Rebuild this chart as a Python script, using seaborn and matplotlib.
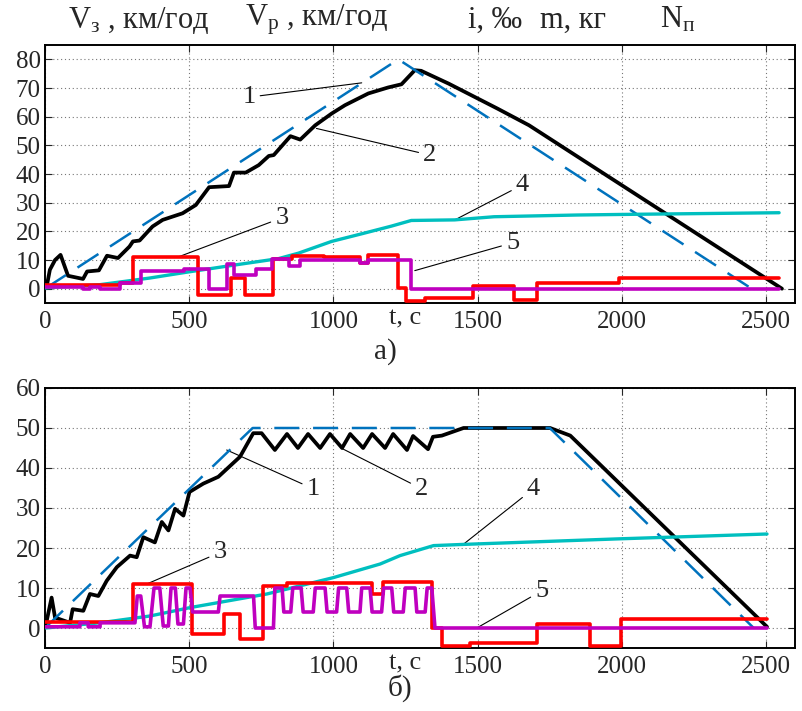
import matplotlib
matplotlib.use("Agg")
import matplotlib.pyplot as plt
import seaborn as sns

# ---------------- panel a) ----------------
# 1 - set speed profile Vз
a_set_t = [0, 1225, 2450]
a_set_v = [0, 80, 0]
# 2 - actual speed Vр
a_act_t = [0, 6, 17, 35, 54, 80, 132, 146, 187, 215, 253, 293, 305, 328, 373, 408,
           477, 523, 569, 638, 655, 696, 741, 776, 793, 851, 885, 937, 994, 1040,
           1121, 1190, 1236, 1282, 1304, 1400, 1569, 1678, 2555]
a_act_v = [0.5, 0.8, 6.6, 10, 11.8, 4.5, 3.4, 6.0, 6.4, 11.5, 10.7, 14.7, 16.5, 16.8,
           21.7, 24, 26.3, 29.2, 35.4, 35.8, 40.5, 40.5, 43.1, 46.3, 46.6, 53.2, 52,
           57, 61.1, 64, 68.1, 70.2, 71.3, 76.2, 76, 71.5, 62.8, 57, 0]
# 3 - gradient i (step changes)
a_grad_t = [0, 259, 305, 531, 644, 695, 790, 856, 966, 1092, 1121, 1224, 1253, 1316,
            1483, 1626, 1707, 1990, 2545]
a_grad_v = [1.3, 2.1, 11, -2.3, 3.7, -2.3, 10.3, 11.5, 11.0, 8.9, 11.8, 0.2, -4.2,
            -3.4, 1.0, -3.8, 2.0, 3.7, 3.7]
# 4 - fuel mass m
a_mass_t = [0, 190, 362, 488, 640, 810, 879, 994, 1100, 1200, 1270, 1420, 1557, 1845,
            2000, 2545]
a_mass_v = [0.3, 1.4, 3.7, 5.7, 8.0, 10.5, 12.4, 16.5, 19.2, 21.8, 23.8, 24.0, 25.1,
            25.7, 25.9, 26.5]
# 5 - controller position Nп (step changes)
a_notch_t = [0, 132, 155, 190, 259, 333, 483, 569, 632, 655, 730, 787, 845, 885,
             1092, 1121, 1268, 2545]
a_notch_v = [0.5, 0, 0.5, 0, 2.0, 6.0, 6.8, 0, 8.7, 4.9, 6.8, 10.3, 8.0, 10.1, 8.9,
             10.1, 0, 0]

# ---------------- panel б) ----------------
b_set_t = [0, 720, 1750, 2457]
b_set_v = [0, 50, 50, 0]
b_act_t = [0, 6, 23, 35, 87, 96, 133, 156, 185, 214, 249, 295, 318, 341, 381, 405,
           428, 451, 480, 501, 549, 601, 676, 722, 751, 797, 839, 877, 912, 954, 988,
           1030, 1058, 1103, 1134, 1179, 1207, 1255, 1276, 1328, 1345, 1376, 1451,
           1751, 1821, 2503]
b_act_v = [0.5, 1.8, 7.6, 2.6, 1.3, 4.7, 4.3, 8.5, 8.0, 11.8, 15.2, 18.1, 17.7, 22.7,
           21.4, 26.5, 24.4, 29.8, 28.1, 34, 36.1, 37.8, 42.8, 48.7, 48.7, 44.5, 48.5,
           45, 48.5, 45, 48.5, 45, 48.5, 45, 48.5, 45, 48.5, 44.5, 48, 44.7, 47.8,
           48.1, 50, 50, 48.1, 0.3]
b_grad_t = [0, 306, 509, 619, 676, 755, 838, 1133, 1173, 1341, 1377, 1474, 1705, 1890,
            1998, 2503]
b_grad_v = [1.5, 11.0, -1.6, 3.6, -2.8, 10.5, 11.3, 8.6, 11.6, 0, -4.5, -3.7, 0.9,
            -4.5, 2.2, 2.2]
b_mass_t = [0, 191, 364, 503, 769, 1000, 1162, 1231, 1347, 1451, 1994, 2503]
b_mass_v = [0, 1.3, 3.0, 5.1, 8.5, 12.6, 16.0, 18.1, 20.6, 20.9, 22.3, 23.5]
b_notch_t = [0, 121, 121, 150, 150, 191, 191, 312, 320, 332, 345, 364, 378, 398, 410,
             428, 437, 452, 461, 480, 489, 503, 512, 601, 607, 723, 729, 792, 797, 822,
             828, 852, 859, 888, 895, 930, 937, 971, 978, 1011, 1018, 1046, 1053, 1092,
             1098, 1127, 1134, 1167, 1174, 1202, 1209, 1242, 1249, 1283, 1289, 1318,
             1325, 1341, 1352, 2503]
b_notch_v = [0.3, 0.3, 1.3, 1.3, 0.3, 0.3, 1.3, 1.3, 8, 8, 0.3, 0.3, 10, 10, 0.5, 0.5,
             10, 10, 1, 1, 10, 10, 4, 4, 8, 8, 0, 0, 10, 10, 4, 4, 10, 10, 4, 4, 10, 10,
             4, 4, 10, 10, 4, 4, 10, 10, 4, 4, 10, 10, 4, 4, 10, 10, 4, 4, 10, 10, 0, 0]

# callout numbers: (label, text position, pointed position)
a_callouts = [("1", (707, 66.8), (1098, 71.8)), ("2", (1334, 46.6), (941, 55.9)),
              ("3", (821, 24.7), (460, 11.0)), ("4", (1655, 36.2), (1421, 24.0)),
              ("5", (1621, 16.0), (1282, 6.3))]
b_callouts = [("1", (930, 34.8), (630, 44.5)), ("2", (1306, 34.8), (1029, 44.9)),
              ("3", (607, 18.9), (353, 11.0)), ("4", (1693, 34.8), (1450, 20.9)),
              ("5", (1722, 9.3), (1497, 0.0))]

header = [(68, r"V$_{\mathrm{з}}$ , км/год"), (245, r"V$_{\mathrm{р}}$ , км/год"),
          (468, "i, ‰"), (540, "m, кг"), (660, r"N$_{\mathrm{п}}$")]

sns.set_style("ticks")
SERIF = ["Liberation Serif", "DejaVu Serif"]
plt.rcParams.update({
    "font.family": SERIF,
    "mathtext.fontset": "custom",
    "mathtext.rm": "Liberation Serif",
    "mathtext.it": "Liberation Serif:italic",
    "xtick.direction": "in",
    "ytick.direction": "in",
    "xtick.top": True,
    "ytick.right": True,
})

BLUE = "#0072BD"
CYAN = "#00BFBF"
MAGENTA = "#BF00BF"
RED = "#FF0000"

fig = plt.figure(figsize=(8.03, 7.11), dpi=100)
ax_a = fig.add_axes([0.056, 0.5738, 0.934, 0.3629])
ax_b = fig.add_axes([0.056, 0.0886, 0.934, 0.3657])


def draw_panel(ax, set_t, set_v, act_t, act_v, grad_t, grad_v, mass_t, mass_v,
               notch_t, notch_v, notch_style, ymax, callouts):
    sns.lineplot(x=act_t, y=act_v, ax=ax, color="black", lw=2.7, estimator=None,
                 sort=False, zorder=3)
    sns.lineplot(x=set_t, y=set_v, ax=ax, color=BLUE, lw=1.8, estimator=None,
                 sort=False, linestyle=(0, (10, 5.5)), zorder=4)
    sns.lineplot(x=mass_t, y=mass_v, ax=ax, color=CYAN, lw=2.4, estimator=None,
                 sort=False, zorder=4)
    sns.lineplot(x=grad_t, y=grad_v, ax=ax, color=RED, lw=2.6, estimator=None,
                 sort=False, drawstyle="steps-post", zorder=5)
    sns.lineplot(x=notch_t, y=notch_v, ax=ax, color=MAGENTA, lw=2.6, estimator=None,
                 sort=False, drawstyle=notch_style, zorder=6)

    ax.set_xlim(0, 2600)
    ax.set_ylim(-5, ymax)
    ax.set_xticks(range(0, 2501, 500))
    ax.set_yticks(range(0, int(ymax) // 10 * 10 + 1, 10))
    ax.grid(True, linestyle=(0, (1, 2.5)), color="#777777", lw=0.8)
    ax.tick_params(labelsize=18, length=5, width=0.8, pad=3)
    ax.tick_params(axis="x", pad=6)
    for lbl in ax.get_xticklabels() + ax.get_yticklabels():
        lbl.set_family(SERIF)
    for s in ax.spines.values():
        s.set_linewidth(1.4)
        s.set_color("black")
    ax.set_xlabel("")
    ax.set_ylabel("")
    for lab, txt, pt in callouts:
        ax.annotate(lab, xy=pt, xytext=txt, fontsize=19, ha="center", va="center",
                    arrowprops=dict(arrowstyle="-", lw=0.8, color="black",
                                    shrinkA=1, shrinkB=0))
    ax.text(0.48, -0.06, "t, c", transform=ax.transAxes, fontsize=19,
            ha="center", va="center")


draw_panel(ax_a, a_set_t, a_set_v, a_act_t, a_act_v, a_grad_t, a_grad_v,
           a_mass_t, a_mass_v, a_notch_t, a_notch_v, "steps-post", 85, a_callouts)
draw_panel(ax_b, b_set_t, b_set_v, b_act_t, b_act_v, b_grad_t, b_grad_v,
           b_mass_t, b_mass_v, b_notch_t, b_notch_v, "default", 60, b_callouts)

for x_px, txt in header:
    fig.text(x_px / 803, 1 - 20 / 711, txt, fontsize=22, ha="left", va="center")

fig.text(385 / 803, 1 - 352 / 711, "а)", fontsize=21, ha="center", va="center")
fig.text(400 / 803, 1 - 688 / 711, "б)", fontsize=21, ha="center", va="center")

fig.savefig("out.png", dpi=100)
